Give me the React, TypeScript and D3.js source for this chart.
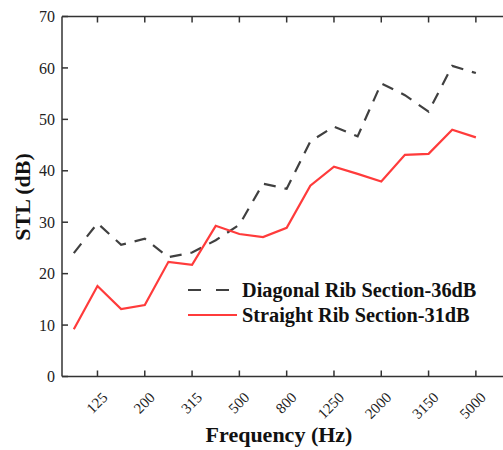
import React, { useRef, useEffect } from "react"
import * as d3 from "d3"

// frequency bands (Hz)
const freqs = ["100", "125", "160", "200", "250", "315", "400", "500", "630", "800", "1000", "1250", "1600", "2000", "2500", "3150", "4000", "5000"]
const tickLabels = ["125", "200", "315", "500", "800", "1250", "2000", "3150", "5000"]
const yTicks = [0, 10, 20, 30, 40, 50, 60, 70]

const diagonal = [24.0, 29.8, 25.6, 26.8, 23.2, 24.1, 26.5, 29.5, 37.5, 36.5, 45.7, 48.6, 46.7, 57.0, 54.7, 51.5, 60.4, 59.0]
const straight = [9.2, 17.6, 13.1, 13.9, 22.3, 21.7, 29.3, 27.7, 27.1, 28.9, 37.1, 40.8, 39.4, 37.9, 43.1, 43.3, 48.0, 46.5]

const seriesNames = ["Diagonal Rib Section-36dB", "Straight Rib Section-31dB"]

const W = 503
const H = 450

const App = () => {
  const ref = useRef<SVGSVGElement>(null)

  useEffect(() => {
    const svg = d3.select(ref.current)
    svg.selectAll("*").remove()

    const left = 62, top = 16.5, bottom = 376.5, step = 23.65
    const right = 506
    const font = "'Liberation Serif', 'Times New Roman', serif"
    const axisColor = "#333"

    const x = d3.scalePoint<string>().domain(freqs).range([left, left + 18 * step]).padding(0.5)
    const y = d3.scaleLinear().domain([0, 70]).range([bottom, top])

    const line = d3.line<number>()
      .x((d, i) => x(freqs[i]) as number)
      .y(d => y(d))

    // lines
    svg.append("path")
      .datum(diagonal)
      .attr("d", line)
      .attr("fill", "none")
      .attr("stroke", "#404040")
      .attr("stroke-width", 2.2)
      .attr("stroke-dasharray", "12,9")

    svg.append("path")
      .datum(straight)
      .attr("d", line)
      .attr("fill", "none")
      .attr("stroke", "#ff3b3b")
      .attr("stroke-width", 2.2)

    // frame
    const g = svg.append("g").attr("stroke", axisColor).attr("stroke-width", 1.5)
    g.append("line").attr("x1", left).attr("x2", right).attr("y1", top).attr("y2", top)
    g.append("line").attr("x1", left).attr("x2", right).attr("y1", bottom).attr("y2", bottom)
    g.append("line").attr("x1", left).attr("x2", left).attr("y1", top).attr("y2", bottom)

    // x ticks (bottom and top, inward)
    g.selectAll(".xtb").data(tickLabels).enter().append("line")
      .attr("x1", d => x(d) as number).attr("x2", d => x(d) as number)
      .attr("y1", bottom).attr("y2", bottom - 6)
    g.selectAll(".xtt").data(tickLabels).enter().append("line")
      .attr("x1", d => x(d) as number).attr("x2", d => x(d) as number)
      .attr("y1", top).attr("y2", top + 6)

    // y ticks (inward)
    g.selectAll(".yt").data(yTicks).enter().append("line")
      .attr("x1", left).attr("x2", left + 6)
      .attr("y1", d => y(d)).attr("y2", d => y(d))

    // y tick labels
    svg.selectAll(".yl").data(yTicks).enter().append("text")
      .attr("x", left - 7)
      .attr("y", d => y(d))
      .attr("dy", "0.35em")
      .attr("text-anchor", "end")
      .attr("font-family", font)
      .attr("font-size", 16)
      .attr("fill", "#222")
      .text(d => d)

    // x tick labels, rotated
    svg.selectAll(".xl").data(tickLabels).enter().append("text")
      .attr("transform", d => `translate(${(x(d) as number) + 11},${bottom + 22}) rotate(-45)`)
      .attr("text-anchor", "end")
      .attr("font-family", font)
      .attr("font-size", 15)
      .attr("fill", "#222")
      .text(d => d)

    // axis titles
    svg.append("text")
      .attr("x", 279).attr("y", 442)
      .attr("text-anchor", "middle")
      .attr("font-family", font)
      .attr("font-weight", "bold")
      .attr("font-size", 22)
      .attr("fill", "#111")
      .text("Frequency (Hz)")

    svg.append("text")
      .attr("transform", "translate(30,197) rotate(-90)")
      .attr("text-anchor", "middle")
      .attr("font-family", font)
      .attr("font-weight", "bold")
      .attr("font-size", 22)
      .attr("fill", "#111")
      .text("STL (dB)")

    // legend
    const lg = svg.append("g")
    const rows = [
      { name: seriesNames[0], color: "#404040", dash: "13,15", y: 290 },
      { name: seriesNames[1], color: "#ff3b3b", dash: null, y: 315 },
    ]
    rows.forEach(r => {
      lg.append("line")
        .attr("x1", 188).attr("x2", r.dash ? 230 : 237)
        .attr("y1", r.y).attr("y2", r.y)
        .attr("stroke", r.color)
        .attr("stroke-width", 2.2)
        .attr("stroke-dasharray", r.dash)
      lg.append("text")
        .attr("x", 242).attr("y", r.y)
        .attr("dy", "0.35em")
        .attr("font-family", font)
        .attr("font-weight", "bold")
        .attr("font-size", 20.3)
        .attr("fill", "#111")
        .text(r.name)
    })
  }, [])

  return (
    <svg ref={ref} width={W} height={H} style={{ position: "absolute", left: 0, top: 0, background: "#fff" }}></svg>
  )
}

export default App
